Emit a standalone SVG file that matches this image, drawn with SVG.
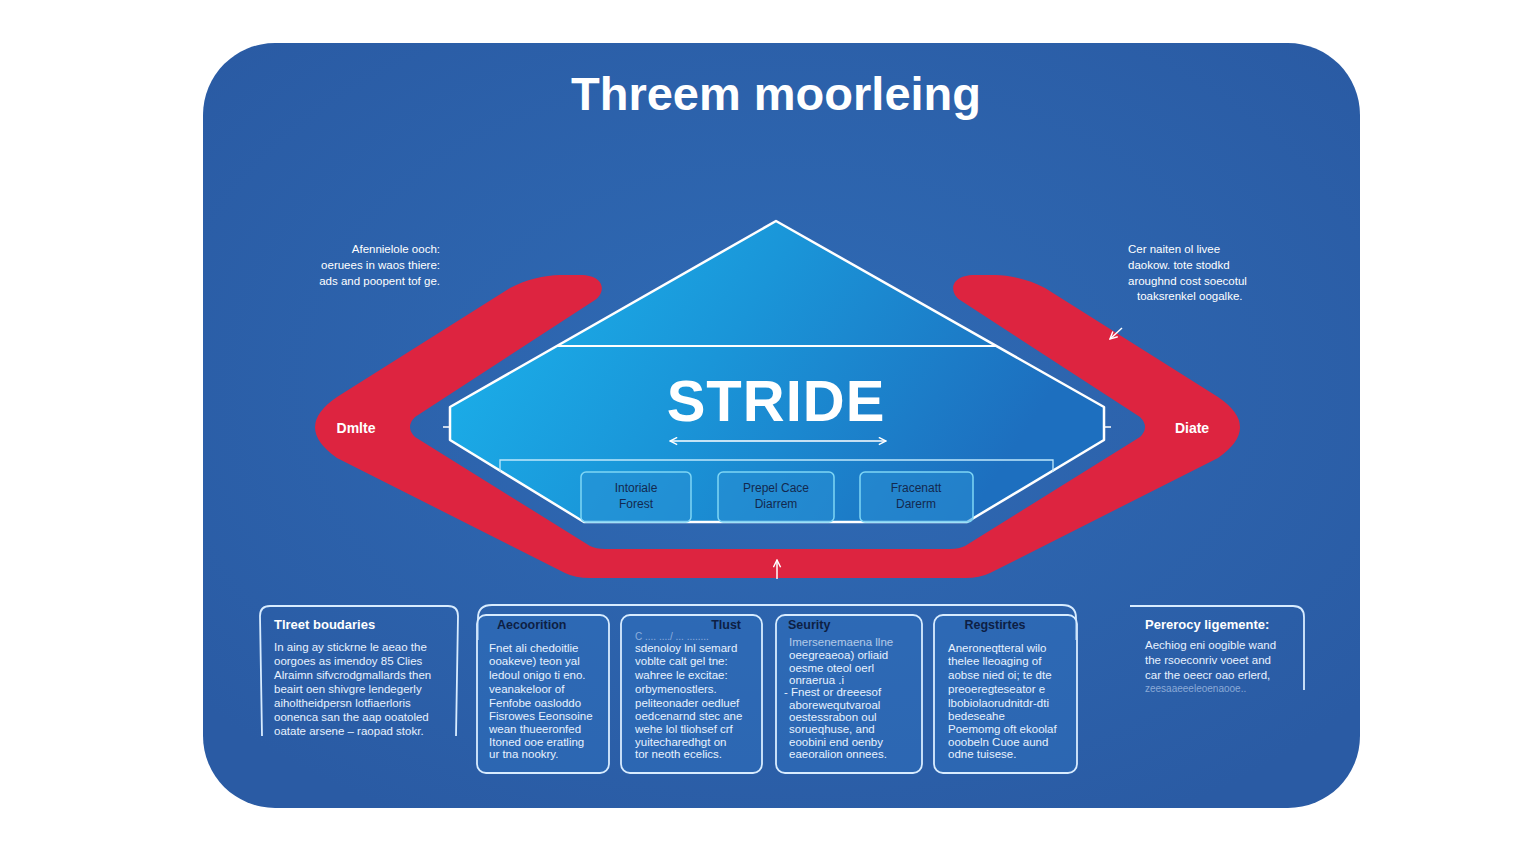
<svg xmlns="http://www.w3.org/2000/svg" width="1536" height="864" viewBox="0 0 1536 864">
  <defs>
    <radialGradient id="bg" cx="0.5" cy="0.45" r="0.65">
      <stop offset="0" stop-color="#2f6bb5"/>
      <stop offset="1" stop-color="#2a5ba4"/>
    </radialGradient>
    <linearGradient id="hex" x1="0" y1="0" x2="1" y2="0.3">
      <stop offset="0" stop-color="#1bb6ee"/>
      <stop offset="0.5" stop-color="#1a95d8"/>
      <stop offset="1" stop-color="#1d6fbf"/>
    </linearGradient>
    <marker id="ah" viewBox="0 0 10 10" refX="9" refY="5" markerWidth="6" markerHeight="6" orient="auto-start-reverse">
      <path d="M1,1 L9,5 L1,9" fill="none" stroke="#ffffff" stroke-width="1.6"/>
    </marker>
    <style>
      text { font-family: "Liberation Sans", Arial, sans-serif; }
      .title { font-size: 47px; font-weight: bold; fill: #ffffff; }
      .big { font-size: 58px; font-weight: bold; fill: #ffffff; letter-spacing: 1px; }
      .side { font-size: 11.5px; fill: #ffffff; }
      .lbl { font-size: 14px; font-weight: bold; fill: #ffffff; }
      .inbox { fill: #2a8fd3; fill-opacity: 0.5; stroke: #7fd6f5; stroke-width: 1.5; }
      .intext { font-size: 12px; fill: #13294f; }
      .frame { fill: none; stroke: #d8ecff; stroke-width: 1.8; }
      .card { fill: #2e70bd; fill-opacity: 0.5; stroke: #d8ecff; stroke-width: 1.8; }
      .hd { font-size: 12.5px; font-weight: bold; fill: #0d1f44; }
      .hdw { font-size: 13px; font-weight: bold; fill: #ffffff; }
      .body { font-size: 11.5px; fill: #e8f2ff; }
      .faint { font-size: 10px; fill: #c9dcf5; opacity: 0.6; }
      .conn { fill: none; stroke: #ffffff; stroke-width: 1.5; }
    </style>
  </defs>

  <rect x="0" y="0" width="1536" height="864" fill="#ffffff"/>
  <rect id="panel" x="203" y="43" width="1157" height="765" rx="72" fill="url(#bg)"/>

  <g id="title">
    <text class="title" x="776" y="110" text-anchor="middle">Threem moorleing</text>
  </g>

  <g id="red-band">
    <path fill="#dd2440" d="M 595,300 L 415,417 Q 405,427 415,437 L 590,546 Q 596,549 605,549 L 950,549 Q 959,549 965,546 L 1140,437 Q 1150,427 1140,417 L 960,300 C 950,294 948,275 975,275 L 995,275 C 1010,275 1030,280 1045,288 L 1218,397 Q 1262,427 1218,458 L 990,573 Q 980,578 965,578 L 590,578 Q 575,578 565,573 L 337,458 Q 293,427 337,397 L 510,288 C 525,280 545,275 560,275 L 580,275 C 607,275 605,294 595,300 Z"/>
    <text class="lbl" x="356" y="433" text-anchor="middle">Dmlte</text>
    <text class="lbl" x="1192" y="433" text-anchor="middle">Diate</text>
  </g>

  <g id="stride">
    <path d="M 776,221 L 450,407 L 450,440 L 584,522 L 967,522 L 1104,440 L 1104,407 Z" fill="url(#hex)" stroke="#ffffff" stroke-width="2.5" stroke-linejoin="round"/>
    <line x1="557" y1="346" x2="996" y2="346" stroke="#ffffff" stroke-width="1.8"/>
    <path d="M 500,472 L 500,460 L 1053,460 L 1053,472" fill="none" stroke="#bfe8fb" stroke-width="1.3"/>
    <line x1="443" y1="427" x2="450" y2="427" stroke="#ffffff" stroke-width="1.5"/>
    <line x1="1104" y1="427" x2="1111" y2="427" stroke="#ffffff" stroke-width="1.5"/>
    <text class="big" x="776" y="421" text-anchor="middle">STRIDE</text>
  </g>

  <g id="box-inner-1">
    <rect class="inbox" x="581" y="472" width="110" height="50" rx="5"/>
    <text class="intext" x="636" y="492" text-anchor="middle">Intoriale</text>
    <text class="intext" x="636" y="508" text-anchor="middle">Forest</text>
  </g>
  <g id="box-inner-2">
    <rect class="inbox" x="718" y="472" width="116" height="50" rx="5"/>
    <text class="intext" x="776" y="492" text-anchor="middle">Prepel Cace</text>
    <text class="intext" x="776" y="508" text-anchor="middle">Diarrem</text>
  </g>
  <g id="box-inner-3">
    <rect class="inbox" x="860" y="472" width="113" height="50" rx="5"/>
    <text class="intext" x="916" y="492" text-anchor="middle">Fracenatt</text>
    <text class="intext" x="916" y="508" text-anchor="middle">Darerm</text>
  </g>

  <g id="note-left">
    <text class="side" x="440" y="253" text-anchor="end">Afennielole ooch:</text>
    <text class="side" x="440" y="269" text-anchor="end">oeruees in waos thiere:</text>
    <text class="side" x="440" y="285" text-anchor="end">ads and poopent tof ge.</text>
  </g>

  <g id="note-right">
    <text class="side" x="1128" y="253">Cer naiten ol livee</text>
    <text class="side" x="1128" y="269">daokow. tote stodkd</text>
    <text class="side" x="1128" y="285">aroughnd cost soecotul</text>
    <text class="side" x="1137" y="300">toaksrenkel oogalke.</text>
  </g>

  <g id="connectors">
    <line class="conn" x1="670" y1="441" x2="886" y2="441" marker-start="url(#ah)" marker-end="url(#ah)"/>
    <line class="conn" x1="777" y1="579" x2="777" y2="560" marker-end="url(#ah)"/>
    <line class="conn" x1="1122" y1="328" x2="1110" y2="339" marker-end="url(#ah)" stroke-width="1"/>
  </g>

  <g id="card-threat">
    <path class="frame" d="M 262,736 L 260,616 Q 260,606 270,606 L 448,606 Q 458,606 458,616 L 456,736"/>
    <text class="hdw" x="274" y="629">Tlreet boudaries</text>
    <text class="body" x="274" y="651">In aing ay stickrne le aeao the</text>
    <text class="body" x="274" y="665">oorgoes as imendoy 85 Clies</text>
    <text class="body" x="274" y="679">Alraimn sifvcrodgmallards then</text>
    <text class="body" x="274" y="693">beairt oen shivgre lendegerly</text>
    <text class="body" x="274" y="707">aiholtheidpersn lotfiaerloris</text>
    <text class="body" x="274" y="721">oonenca san the aap ooatoled</text>
    <text class="body" x="274" y="735">oatate arsene – raopad stokr.</text>
  </g>

  <g id="frame-group">
    <path class="frame" d="M 478,640 L 478,618 Q 478,605 492,605 L 1062,605 Q 1076,605 1076,618 L 1076,640"/>
  </g>

  <g id="card-aecoorition">
    <rect class="card" x="477" y="615" width="132" height="158" rx="9"/>
    <text class="hd" x="497" y="629">Aecoorition</text>
    <text class="body" x="489" y="652">Fnet ali chedoitlie</text>
    <text class="body" x="489" y="665">ooakeve) teon yal</text>
    <text class="body" x="489" y="679">ledoul onigo ti eno.</text>
    <text class="body" x="489" y="693">veanakeloor of</text>
    <text class="body" x="489" y="707">Fenfobe oasloddo</text>
    <text class="body" x="489" y="720">Fisrowes Eeonsoine</text>
    <text class="body" x="489" y="733">wean thueeronfed</text>
    <text class="body" x="489" y="746">Itoned ooe eratling</text>
    <text class="body" x="489" y="758">ur tna nookry.</text>
  </g>

  <g id="card-trust">
    <rect class="card" x="621" y="615" width="141" height="158" rx="9"/>
    <text class="hd" x="741" y="629" text-anchor="end">Tlust</text>
    <text class="faint" x="635" y="640">C .... ..../ ... ........</text>
    <text class="body" x="635" y="652">sdenoloy lnl semard</text>
    <text class="body" x="635" y="665">voblte calt gel tne:</text>
    <text class="body" x="635" y="679">wahree le excitae:</text>
    <text class="body" x="635" y="693">orbymenostlers.</text>
    <text class="body" x="635" y="707">peliteonader oedluef</text>
    <text class="body" x="635" y="720">oedcenarnd stec ane</text>
    <text class="body" x="635" y="733">wehe lol tliohsef crf</text>
    <text class="body" x="635" y="746">yuitecharedhgt on</text>
    <text class="body" x="635" y="758">tor neoth ecelics.</text>
  </g>

  <g id="card-security">
    <rect class="card" x="776" y="615" width="146" height="158" rx="9"/>
    <text class="hd" x="788" y="629">Seurity</text>
    <text class="body" x="789" y="646" opacity="0.7">Imersenemaena llne</text>
    <text class="body" x="789" y="659">oeegreaeoa) orliaid</text>
    <text class="body" x="789" y="672">oesme oteol oerl</text>
    <text class="body" x="789" y="684">onraerua .i</text>
    <text class="body" x="784" y="696">- Fnest or dreeesof</text>
    <text class="body" x="789" y="709">aborewequtvaroal</text>
    <text class="body" x="789" y="721">oestessrabon oul</text>
    <text class="body" x="789" y="733">sorueqhuse, and</text>
    <text class="body" x="789" y="746">eoobini end oenby</text>
    <text class="body" x="789" y="758">eaeoralion onnees.</text>
  </g>

  <g id="card-regstirtes">
    <rect class="card" x="934" y="615" width="143" height="158" rx="9"/>
    <text class="hd" x="995" y="629" text-anchor="middle">Regstirtes</text>
    <text class="body" x="948" y="652">Aneroneqtteral wilo</text>
    <text class="body" x="948" y="665">thelee lleoaging of</text>
    <text class="body" x="948" y="679">aobse nied oi; te dte</text>
    <text class="body" x="948" y="693">preoeregteseator e</text>
    <text class="body" x="948" y="707">lbobiolaorudnitdr-dti</text>
    <text class="body" x="948" y="720">bedeseahe</text>
    <text class="body" x="948" y="733">Poemomg oft ekoolaf</text>
    <text class="body" x="948" y="746">ooobeln Cuoe aund</text>
    <text class="body" x="948" y="758">odne tuisese.</text>
  </g>

  <g id="card-pererocy">
    <path class="frame" d="M 1130,606 L 1293,606 Q 1304,606 1304,617 L 1304,690"/>
    <text class="hdw" x="1145" y="629">Pererocy ligemente:</text>
    <text class="body" x="1145" y="649">Aechiog eni oogible wand</text>
    <text class="body" x="1145" y="664">the rsoeconriv voeet and</text>
    <text class="body" x="1145" y="679">car the oeecr oao erlerd,</text>
    <text class="faint" x="1145" y="692">zeesaaeeeleoenaooe..</text>
  </g>
</svg>
